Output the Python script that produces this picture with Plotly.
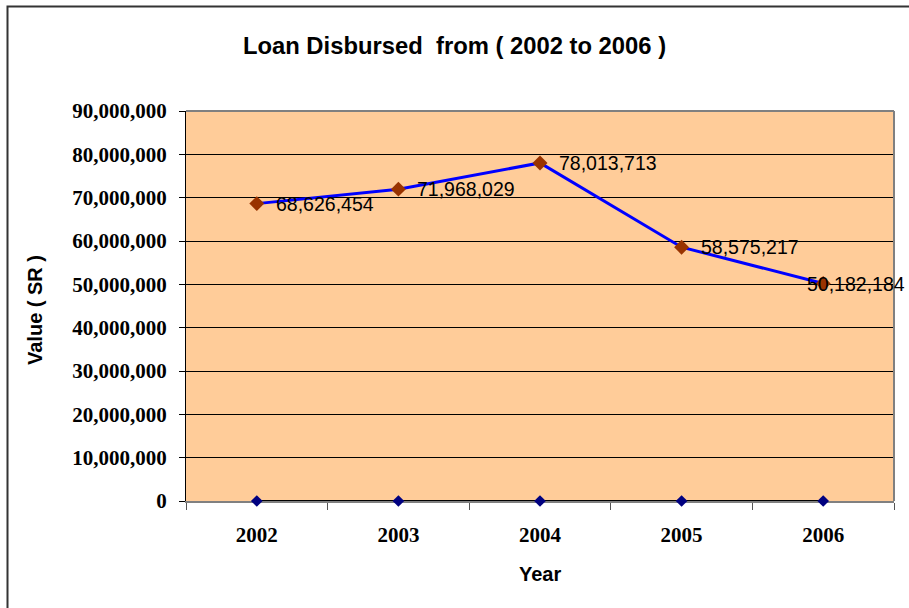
import plotly.graph_objects as go

# Loan disbursement totals per year (SR)
years = ["2002", "2003", "2004", "2005", "2006"]
loans_disbursed = [68626454, 71968029, 78013713, 58575217, 50182184]
baseline_series = [0, 0, 0, 0, 0]
y_ticks = [0, 10000000, 20000000, 30000000, 40000000, 50000000,
           60000000, 70000000, 80000000, 90000000]

W, H = 909, 608
ML, MR, MT, MB = 186, 15, 111, 107
PW, PH = W - ML - MR, H - MT - MB


def px_x(px):
    return (px - ML) / PW


def px_y(py):
    return (H - MB - py) / PH


SANS = "Liberation Sans, Arial, sans-serif"
SERIF = "Liberation Serif, Times New Roman, serif"

fig = go.Figure()

fig.add_trace(go.Scatter(
    x=years, y=baseline_series, mode="lines+markers",
    line=dict(color="#000000", width=2),
    marker=dict(symbol="diamond", size=9, color="#000080"),
    cliponaxis=False, hoverinfo="skip", showlegend=False,
))

fig.add_trace(go.Scatter(
    x=years, y=loans_disbursed, mode="lines+markers",
    line=dict(color="#0000FF", width=3),
    marker=dict(symbol="diamond", size=11.5, color="#993300"),
    cliponaxis=False, hoverinfo="skip", showlegend=False,
))

# value labels beside each point; the last one is nudged back inside the frame
label_shift = [17, 17, 17, 17, -18]
annotations = []
for i, (val, dx) in enumerate(zip(loans_disbursed, label_shift)):
    annotations.append(dict(
        x=i, y=val, xref="x", yref="y", text=f"{val:,}",
        showarrow=False, xanchor="left", yanchor="middle", xshift=dx,
        font=dict(family=SANS, size=19.5, color="#000000"),
    ))

annotations.append(dict(
    x=px_x(35), y=px_y(310), xref="paper", yref="paper",
    text="<b>Value ( SR )</b>", textangle=-90, showarrow=False,
    xanchor="center", yanchor="middle",
    font=dict(family=SANS, size=20, color="#000000"),
))
annotations.append(dict(
    x=0.5, y=px_y(574), xref="paper", yref="paper",
    text="<b>Year</b>", showarrow=False,
    xanchor="center", yanchor="middle",
    font=dict(family=SANS, size=20, color="#000000"),
))

shapes = [
    # outer chart frame
    dict(type="rect", xref="paper", yref="paper",
         x0=px_x(7.5), x1=px_x(W + 20), y0=px_y(H + 20), y1=px_y(6.5),
         line=dict(color="#333333", width=2), fillcolor="rgba(0,0,0,0)",
         layer="below"),
    # top and right edges of the plot area
    dict(type="line", xref="paper", yref="paper", x0=0, x1=1, y0=1, y1=1,
         line=dict(color="#808080", width=2)),
    dict(type="line", xref="paper", yref="paper", x0=1, x1=1, y0=0, y1=1,
         line=dict(color="#808080", width=2)),
]

fig.update_layout(
    width=W, height=H,
    margin=dict(l=ML, r=MR, t=MT, b=MB, pad=0),
    paper_bgcolor="#FFFFFF",
    plot_bgcolor="#FFCC99",
    title=dict(
        text="<b>Loan Disbursed  from ( 2002 to 2006 )</b>",
        x=0.5, xref="container", xanchor="center",
        y=1 - 46 / H, yref="container", yanchor="middle",
        font=dict(family=SANS, size=23.8, color="#000000"),
    ),
    annotations=annotations,
    shapes=shapes,
    showlegend=False,
)

fig.update_xaxes(
    type="category", range=[-0.5, 4.5],
    showgrid=False, zeroline=False,
    showline=True, linecolor="#808080", linewidth=2,
    ticks="outside", tickson="boundaries", ticklen=7,
    tickcolor="#555555", tickwidth=1,
    ticklabelstandoff=14,
    tickfont=dict(family=SERIF, size=21, color="#000000", weight="bold"),
    layer="below traces",
)

fig.update_yaxes(
    range=[0, 90000000], tickvals=y_ticks, tickformat=",d",
    showgrid=True, gridcolor="#000000", gridwidth=1,
    zeroline=False,
    showline=True, linecolor="#000000", linewidth=1,
    ticks="outside", ticklen=6, tickcolor="#000000", tickwidth=1,
    ticklabelstandoff=8,
    tickfont=dict(family=SERIF, size=21, color="#000000", weight="bold"),
)

fig.write_html("out.html")
